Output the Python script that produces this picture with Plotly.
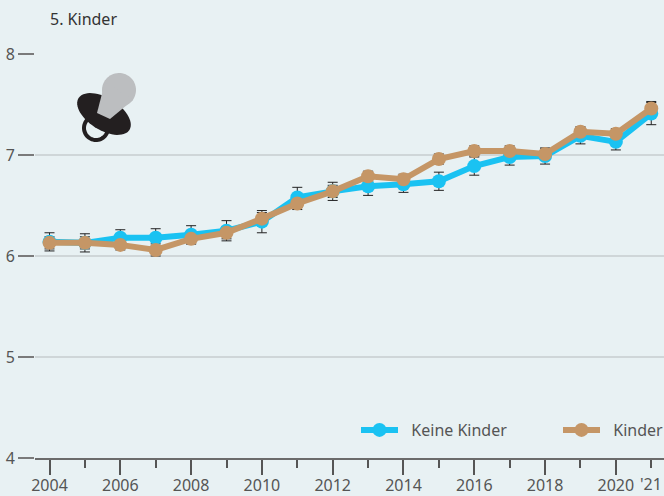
"""5. Kinder: Zeitreihe mit Fehlerbalken, Keine Kinder vs Kinder."""

import numpy as np
import plotly.graph_objects as go

WIDTH = 664
HEIGHT = 496
M_LEFT, M_RIGHT, M_TOP, M_BOTTOM = 35, 0, 54, 38

years = list(range(2004, 2022))
no_kids = [6.14, 6.13, 6.18, 6.18, 6.21, 6.25, 6.34, 6.58, 6.64, 6.69, 6.71, 6.74,
           6.89, 6.98, 6.99, 7.19, 7.13, 7.41]
no_kids_err = [0.09, 0.09, 0.08, 0.09, 0.09, 0.10, 0.11, 0.10, 0.09, 0.09, 0.08, 0.09,
               0.09, 0.08, 0.08, 0.08, 0.08, 0.11]
kids = [6.13, 6.13, 6.11, 6.06, 6.17, 6.23, 6.37, 6.52, 6.64, 6.79, 6.76, 6.96,
        7.04, 7.04, 7.01, 7.23, 7.21, 7.46]
kids_err = [0.06, 0.06, 0.05, 0.06, 0.05, 0.06, 0.06, 0.06, 0.06, 0.05, 0.05, 0.05,
            0.05, 0.05, 0.05, 0.05, 0.05, 0.07]

y_ticks = [4, 5, 6, 7, 8]
major_years = list(range(2004, 2021, 2))
minor_years = list(range(2005, 2022, 2))

BG = "#e8f1f3"
BLUE = "#1ac2f2"
TAN = "#c59666"
TEXT = "#555555"
FONT = "Noto Sans"
PLOT_W = WIDTH - M_LEFT - M_RIGHT
PLOT_H = HEIGHT - M_TOP - M_BOTTOM


def to_paper(pts):
    """Pixel im Bild -> paper-Koordinaten der Plotflaeche."""
    return [((x - M_LEFT) / PLOT_W, 1 - (y - M_TOP) / PLOT_H) for x, y in pts]


def path_of(pts):
    pts = to_paper(pts)
    return "M" + " L".join(f"{x:.5f},{y:.5f}" for x, y in pts) + " Z"


def ellipse(cx, cy, rx, ry, angle=0):
    t = np.linspace(0, 2 * np.pi, 60)[:-1]
    a = np.radians(angle)
    xs = cx + rx * np.cos(t) * np.cos(a) - ry * np.sin(t) * np.sin(a)
    ys = cy + rx * np.cos(t) * np.sin(a) + ry * np.sin(t) * np.cos(a)
    return list(zip(xs, ys))


def icon_shape(pts, fill, line=None, width=0):
    return dict(type="path", xref="paper", yref="paper", path=path_of(pts),
                fillcolor=fill, line=dict(color=line or fill, width=width))


def legend_box(px_x):
    return dict(
        orientation="h", x=(px_x - M_LEFT) / PLOT_W, xanchor="left",
        y=28 / PLOT_H, yanchor="middle",
        bgcolor="rgba(0,0,0,0)", itemwidth=37,
        font=dict(size=16, color=TEXT, family=FONT),
    )


fig = go.Figure()

# Fehlerbalken zuerst, damit die Linien darueber liegen
for vals, errs in [(no_kids, no_kids_err), (kids, kids_err)]:
    fig.add_trace(go.Scatter(
        x=years, y=vals, mode="markers", showlegend=False, hoverinfo="skip",
        marker=dict(size=1, opacity=0),
        error_y=dict(type="data", array=errs, color="#222222", thickness=1, width=5),
    ))

# nbsp im Namen: Abstand zwischen Legendenlinie und Text wie im Original
fig.add_trace(go.Scatter(
    x=years, y=no_kids, mode="lines+markers", name="\u00a0\u00a0Keine Kinder", legend="legend",
    line=dict(color=BLUE, width=6), marker=dict(color=BLUE, size=14),
))
fig.add_trace(go.Scatter(
    x=years, y=kids, mode="lines+markers", name="\u00a0\u00a0Kinder", legend="legend2",
    line=dict(color=TAN, width=6), marker=dict(color=TAN, size=14),
))

fig.update_layout(
    width=WIDTH,
    height=HEIGHT,
    autosize=False,
    paper_bgcolor=BG,
    plot_bgcolor=BG,
    margin=dict(l=M_LEFT, r=M_RIGHT, t=M_TOP, b=M_BOTTOM, pad=0, autoexpand=False),
    font=dict(family=FONT, color=TEXT, size=16),
    title=dict(text="5. Kinder", x=50 / WIDTH, xanchor="left", y=1 - 19 / HEIGHT,
               yanchor="middle", font=dict(family=FONT, size=16, color="#333333")),
    xaxis=dict(
        range=[2003.59, 2021.36],
        tickmode="array", tickvals=major_years, ticktext=[str(y) for y in major_years],
        ticks="outside", ticklen=15, tickwidth=1.5, tickcolor="#555555",
        ticklabelstandoff=-3,
        minor=dict(tickmode="array", tickvals=minor_years, ticks="outside", ticklen=8,
                   tickwidth=1.5, tickcolor="#555555", showgrid=False),
        showgrid=False, zeroline=False,
        showline=True, linecolor="#6b6b6b", linewidth=2,
        tickfont=dict(size=16, color=TEXT),
    ),
    yaxis=dict(
        range=[4, 8],
        tickmode="array", tickvals=y_ticks,
        ticks="outside", ticklen=16, tickwidth=2, tickcolor="#7a7a7a",
        showgrid=True, gridcolor="#cfd6d8", gridwidth=2,
        zeroline=False, showline=False,
        tickfont=dict(size=16, color=TEXT),
    ),
    legend=legend_box(356),
    legend2=legend_box(558),
    annotations=[dict(
        text="'21", x=2021, xref="x", y=0, yref="paper", yanchor="top", yshift=-13,
        showarrow=False, font=dict(size=16, color=TEXT),
    )],
    shapes=[
        # Schnuller-Icon
        icon_shape(ellipse(96, 128, 12, 12), "rgba(0,0,0,0)", "#231f20", 4),
        icon_shape(ellipse(104, 114, 30, 16, 32), "#231f20"),
        icon_shape(ellipse(119, 90, 17, 17), "#bcbec0"),
        icon_shape([(105, 82), (133, 100), (110, 119), (97, 113)], "#bcbec0"),
    ],
    showlegend=True,
)

# Seitenrand des Browsers entfernen, sonst rutscht alles um 8 px
fig.write_html("out.html", config={"displayModeBar": False},
               post_script="document.body.style.margin='0';")
